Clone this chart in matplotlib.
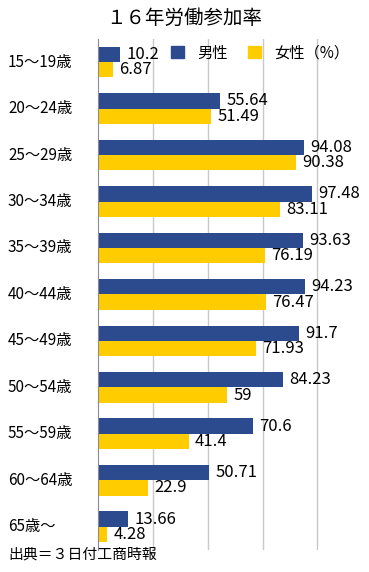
import matplotlib.pyplot as plt
import numpy as np
from matplotlib.patches import Patch

plt.rcParams['font.family'] = ['Noto Sans CJK JP', 'DejaVu Sans']

ages = ["15～19歳", "20～24歳", "25～29歳", "30～34歳", "35～39歳", "40～44歳",
        "45～49歳", "50～54歳", "55～59歳", "60～64歳", "65歳～"]
male = [10.2, 55.64, 94.08, 97.48, 93.63, 94.23, 91.7, 84.23, 70.6, 50.71, 13.66]
female = [6.87, 51.49, 90.38, 83.11, 76.19, 76.47, 71.93, 59, 41.4, 22.9, 4.28]

BLUE = "#2c4a8e"
YELLOW = "#ffcc00"

fig = plt.figure(figsize=(3.69, 5.72), dpi=100)
ax = fig.add_axes([0.2656, 0.0385, 0.7344, 0.8935])

y = np.arange(len(ages))
h = 0.33
ax.barh(y - h / 2, male, height=h, color=BLUE)
ax.barh(y + h / 2, female, height=h, color=YELLOW)

# value labels, a few pixels right of each bar
for i in range(len(ages)):
    ax.text(male[i] + 2.8, y[i] - h / 2, f"{male[i]:g}", va="center", ha="left", fontsize=12)
    ax.text(female[i] + 2.8, y[i] + h / 2, f"{female[i]:g}", va="center", ha="left", fontsize=12)

ax.set_xlim(0, 123.5)
ax.set_ylim(len(ages) - 0.5, -0.5)
ax.set_xticks([25, 50, 75, 100])
ax.xaxis.grid(True, color="#c8c8c8", linewidth=1)
ax.set_axisbelow(True)
ax.tick_params(axis="x", length=0, labelbottom=False)
ax.tick_params(axis="y", length=0, labelleft=False)
for s in ["top", "right", "bottom"]:
    ax.spines[s].set_visible(False)
ax.spines["left"].set_color("#8a8a9a")

# category labels, left-aligned at the figure edge
for i, lab in enumerate(ages):
    ax.annotate(lab, xy=(8 / 369, i), xycoords=("figure fraction", "data"),
                fontsize=11, va="center", ha="left", annotation_clip=False)

handles = [Patch(color=BLUE, label="男性"), Patch(color=YELLOW, label="女性（%）")]
fig.legend(handles=handles, loc="center", bbox_to_anchor=(0.705, 0.907), ncol=2,
           frameon=False, fontsize=11, handlelength=0.85, handleheight=0.85,
           handletextpad=0.9, columnspacing=1.3)

fig.text(0.5, 1 - 18 / 572, "１６年労働参加率", ha="center", va="center", fontsize=14)
fig.text(8 / 369, 1 - 555 / 572, "出典＝３日付工商時報", ha="left", va="center", fontsize=10.7)

fig.savefig("out.png", dpi=100)
